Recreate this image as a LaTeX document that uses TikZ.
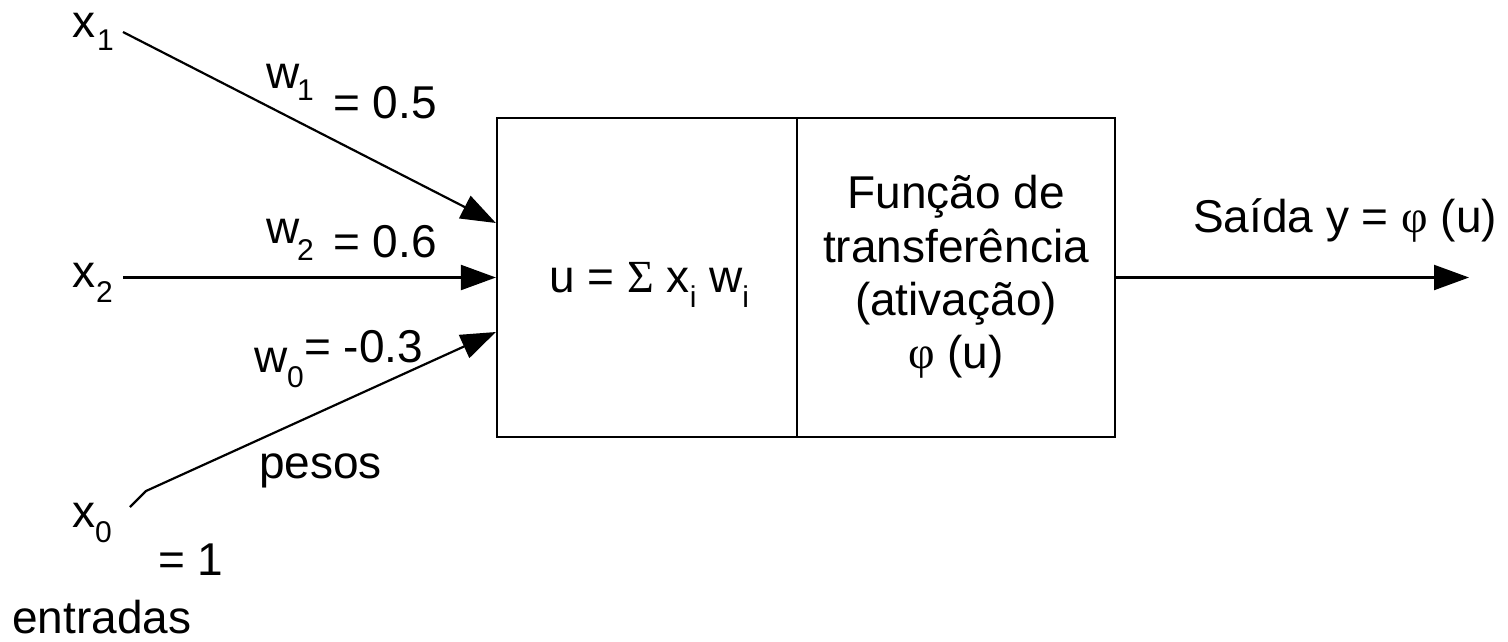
\documentclass[tikz,border=0pt]{standalone}
\usepackage{fontspec}
\setmainfont{Liberation Sans}
\newfontfamily\symf{Liberation Serif}
\usetikzlibrary{arrows.meta,calc}
\begin{document}
\begin{tikzpicture}[x=1pt,y=-1pt,
  txt/.style={inner sep=0pt,anchor=base west,font=\fontsize{46}{52}\selectfont},
  ctxt/.style={inner sep=0pt,anchor=base,font=\fontsize{46}{52}\selectfont},
  subtxt/.style={inner sep=0pt,anchor=base west,font=\fontsize{30}{32}\selectfont},
  blk/.style={draw,line width=2.2pt,inner sep=0pt},
  wire/.style={line width=2.2pt,-{Triangle[length=35pt,width=25pt]}},
]
\useasboundingbox (0,0) rectangle (1508,641);
% blocks
\node[blk,minimum width=300pt,minimum height=319pt] (sum) at (647,277.5) {};
\node[blk,minimum width=318pt,minimum height=319pt] (act) at (956,277.5) {};
% input labels
\node[txt] (x1) at (72,37) {x};
\node[subtxt] (x1i) at (97,50) {1};
\node[txt] (x2) at (72,287) {x};
\node[subtxt] (x2i) at (96,302) {2};
\node[txt] (x0) at (72,527) {x};
\node[subtxt] (x0i) at (95,542) {0};
\node[txt] (x0v) at (158,575) {= 1};
\node[txt] (entr) at (12,633) {entradas};
% weights
\node[txt] (w1) at (266,88) {w};
\node[subtxt] (w1i) at (297,100) {1};
\node[txt] (w1v) at (333,118) {= 0.5};
\node[txt] (w2) at (266,243) {w};
\node[subtxt] (w2i) at (297,260) {2};
\node[txt] (w2v) at (333,257) {= 0.6};
\node[txt] (w0) at (254,372) {w};
\node[subtxt] (w0i) at (287,387) {0};
\node[txt] (w0v) at (304,362) {= -0.3};
\node[txt] (pesos) at (259,478) {pesos};
% sum text
\node[txt] (sumt) at (549,292) {u = {\symf Σ} x\raisebox{-15pt}{\fontsize{30}{32}\selectfont i} w\raisebox{-15pt}{\fontsize{30}{32}\selectfont i}};
% activation text
\node[ctxt] (a1) at (956,208) {Função de};
\node[ctxt] (a2) at (956,262) {transferência};
\node[ctxt] (a3) at (956,315) {(ativação)};
\node[ctxt] (a4) at (956,368) {{\symf φ} (u)};
% output label
\node[txt] (outl) at (1193,232) {Saída y = {\symf φ} (u)};
% connectors
\coordinate (x1s0) at (123,32);
\coordinate (x2s0) at (123,277.5);
\coordinate (x0s0) at (130,507);
\coordinate (x0k) at (146,491);
\coordinate (out) at (1469,277.5);
\draw[wire] (x1s0) -- ($(sum.west)+(0,-54.5)$);
\draw[wire] (x2s0) -- (sum.west);
\draw[wire] (x0s0) -- (x0k) -- ($(sum.west)+(0,54.5)$);
\draw[wire] (act.east) -- (out);
\end{tikzpicture}
\end{document}
